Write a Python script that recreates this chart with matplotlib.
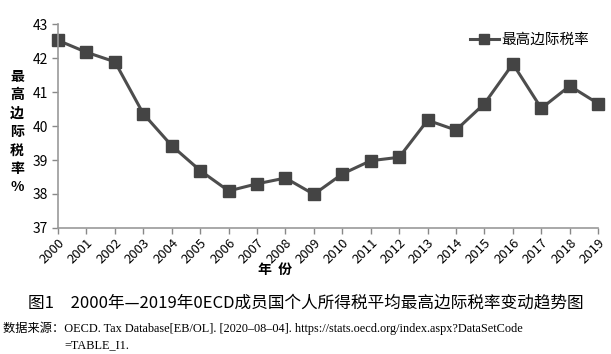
import matplotlib
matplotlib.use('Agg')
import matplotlib.pyplot as plt

# ── data ──────────────────────────────────────────────────────────────────────
years = list(range(2000, 2020))
rates = [42.52, 42.17, 41.89, 40.36, 39.42, 38.69, 38.09, 38.30, 38.47, 37.99,
         38.59, 38.98, 39.08, 40.17, 39.88, 40.66, 41.83, 40.52, 41.18, 40.66]
series_name = '最高边际税率'
ylabel_chars = ['最', '高', '边', '际', '税', '率', '%']
xlabel = '年  份'
caption = '图1　2000年—2019年0ECD成员国个人所得税平均最高边际税率变动趋势图'
source_1 = '数据来源：OECD. Tax Database[EB/OL]. [2020–08–04]. https://stats.oecd.org/index.aspx?DataSetCode'
source_2 = '=TABLE_I1.'

CJK = ['Noto Sans CJK SC', 'DejaVu Sans']
SERIF = ['Liberation Serif', 'Noto Sans CJK SC']
plt.rcParams['font.family'] = CJK

fig = plt.figure(figsize=(6.11, 3.54), dpi=100)
ax = fig.add_axes([0.095, 0.356, 0.884, 0.576])

ax.plot(years, rates, color='#4d4d4d', lw=2.2, marker='s', ms=8,
        mfc='#444444', mec='#444444', label=series_name, clip_on=False)

ax.set_xlim(2000, 2019)
ax.set_ylim(37, 43)
ax.set_xticks(years)
ax.set_xticklabels([str(y) for y in years], rotation=45, ha='right',
                   rotation_mode='anchor', fontsize=9.5, fontweight='medium')
ax.set_yticks(range(37, 44))
ax.set_yticklabels([str(v) for v in range(37, 44)], fontsize=10)
ax.tick_params(axis='both', direction='out', length=4, color='#888888', width=1)
ax.tick_params(axis='x', pad=2)
for s in ('top', 'right'):
    ax.spines[s].set_visible(False)
for s in ('left', 'bottom'):
    ax.spines[s].set_color('#999999')
    ax.spines[s].set_linewidth(1.2)

leg = ax.legend(loc='upper right', bbox_to_anchor=(1.0, 1.0), frameon=False,
                fontsize=10.5, handlelength=2.0, handletextpad=0.2,
                borderaxespad=0.2, markerscale=0.85)

# vertical stacked y label
fig.text(0.028, 0.627, '\n'.join(ylabel_chars), ha='center', va='center',
         fontsize=10, fontweight='bold', linespacing=1.4)
fig.text(0.45, 0.237, xlabel, ha='center', va='center', fontsize=10,
         fontweight='bold')

fig.text(0.5, 0.144, caption, ha='center', va='center', fontsize=12,
         fontweight='medium')
fig.text(0.005, 0.073, source_1, ha='left', va='center', fontsize=8.8,
         family=SERIF)
fig.text(0.106, 0.025, source_2, ha='left', va='center', fontsize=8.8,
         family=SERIF)

fig.savefig('out.png', dpi=100)
